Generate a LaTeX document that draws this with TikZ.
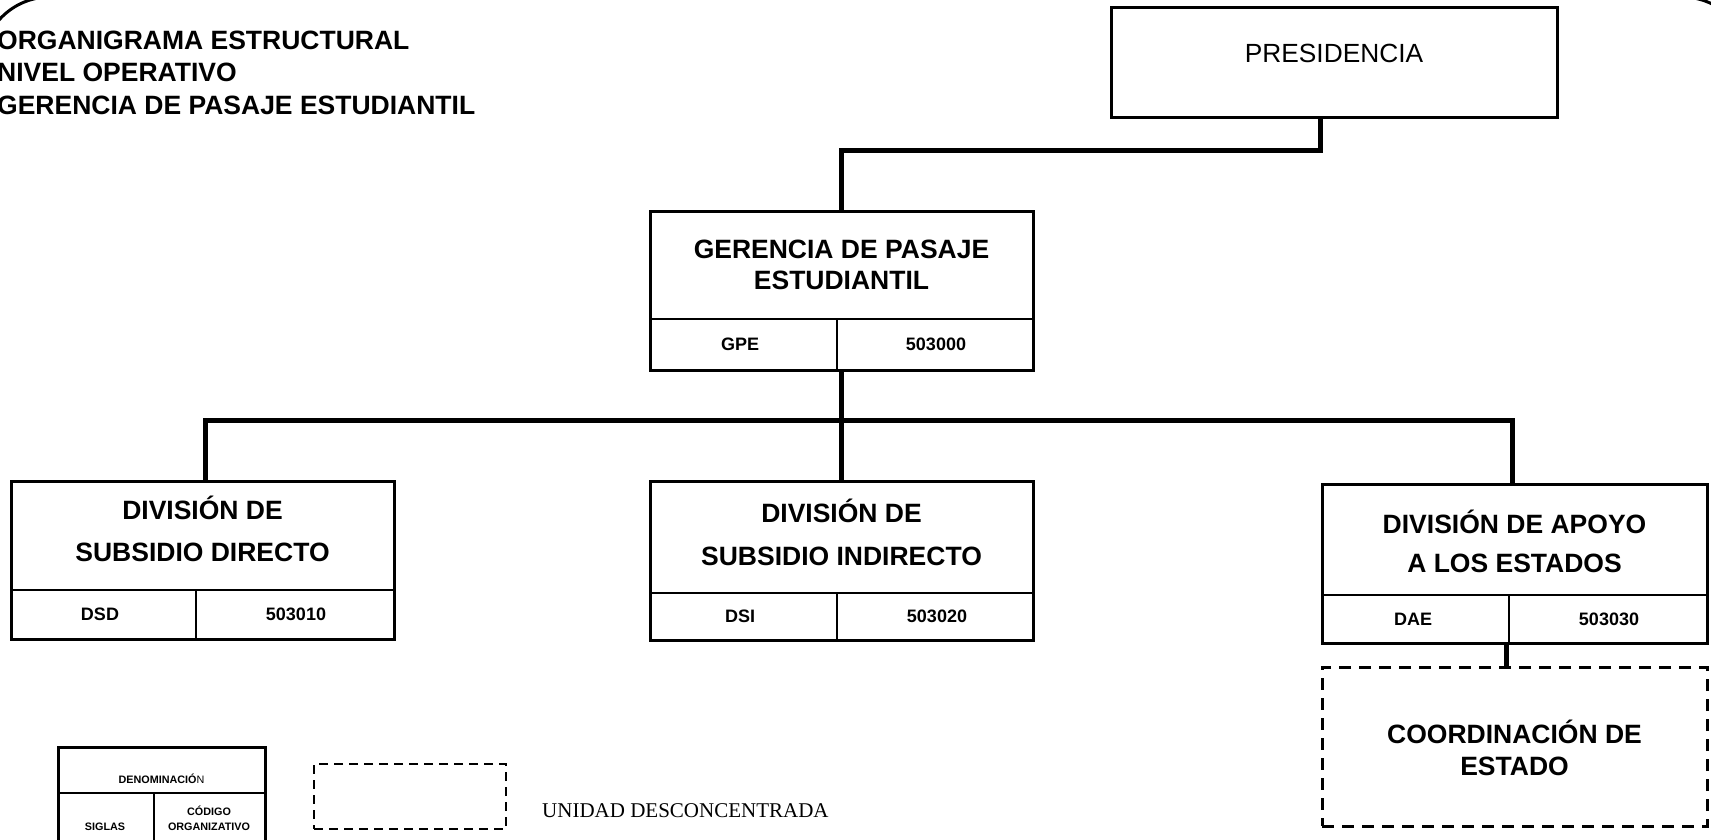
\documentclass[tikz,border=0pt]{standalone}
\usepackage{fontspec}
\setmainfont{Liberation Sans}
\newfontfamily\serifface{Liberation Serif}
\begin{document}
\begin{tikzpicture}[x=1pt,y=-1pt,
  unitbox/.style={draw, line width=3pt, inner sep=0pt},
  conn/.style={line width=5pt},
  divider/.style={line width=2pt},
  dbox/.style={draw, line width=3pt, dash pattern=on 12pt off 8pt, inner sep=0pt},
  bigtxt/.style={font=\fontsize{26.5}{30}\selectfont\bfseries, anchor=base, inner sep=0pt},
  regtxt/.style={font=\fontsize{26.3}{30}\selectfont, anchor=base, inner sep=0pt},
  codetxt/.style={font=\fontsize{18}{20}\selectfont\bfseries, anchor=base, inner sep=0pt},
  titletxt/.style={font=\fontsize{26.5}{30}\selectfont\bfseries, anchor=base west, inner sep=0pt},
  legtxt/.style={font=\fontsize{10.8}{12}\selectfont\bfseries, anchor=base, inner sep=0pt},
  legdash/.style={draw, line width=2.5pt, dash pattern=on 9pt off 6pt, inner sep=0pt}
]
\useasboundingbox (0,0) rectangle (1711,839);
\clip (0,0) rectangle (1711,839);
\fill[white] (0,0) rectangle (1711,839);

% outer frame (mostly outside)
\draw[line width=3pt, rounded corners=68pt] (-18,-3) rectangle (1750,930);

% title
\node[titletxt] (title1) at (-3,49.5) {ORGANIGRAMA ESTRUCTURAL};
\node[titletxt] (title2) at (-3,81.5) {NIVEL OPERATIVO};
\node[titletxt] (title3) at (-3,114.5) {GERENCIA DE PASAJE ESTUDIANTIL};

% boxes
\node[unitbox, minimum width=446pt, minimum height=110pt] (pres) at (1334,62) {};
\node[regtxt] (pres-t) at (1334,62.4) {PRESIDENCIA};

\node[unitbox, minimum width=383pt, minimum height=159pt] (gpe) at (841.5,290.5) {};
\draw[divider] (650,319) -- (1033,319);
\draw[line width=1.6pt] (837,319) -- (837,370);
\node[bigtxt] (gpe-t1) at (841.5,258.5) {GERENCIA DE PASAJE};
\node[bigtxt] (gpe-t2) at (841.5,289.5) {ESTUDIANTIL};
\node[codetxt] (gpe-s) at (740,350.4) {GPE};
\node[codetxt] (gpe-c) at (936,350.4) {503000};

\node[unitbox, minimum width=383pt, minimum height=158pt] (dsd) at (202.5,560) {};
\draw[divider] (11,590) -- (394,590);
\draw[line width=1.6pt] (196,590) -- (196,639);
\node[bigtxt] (dsd-t1) at (202.5,519.5) {DIVISIÓN DE};
\node[bigtxt] (dsd-t2) at (202.5,561.5) {SUBSIDIO DIRECTO};
\node[codetxt] (dsd-s) at (100,620.4) {DSD};
\node[codetxt] (dsd-c) at (296,620.4) {503010};

\node[unitbox, minimum width=383pt, minimum height=159pt] (dsi) at (841.5,560.5) {};
\draw[divider] (650,593) -- (1033,593);
\draw[line width=1.6pt] (837,593) -- (837,640);
\node[bigtxt] (dsi-t1) at (841.5,522.5) {DIVISIÓN DE};
\node[bigtxt] (dsi-t2) at (841.5,565.5) {SUBSIDIO INDIRECTO};
\node[codetxt] (dsi-s) at (740,622.4) {DSI};
\node[codetxt] (dsi-c) at (937,622.4) {503020};

\node[unitbox, minimum width=385pt, minimum height=159pt] (dae) at (1514.5,563.5) {};
\draw[divider] (1322,595) -- (1707,595);
\draw[line width=1.6pt] (1509,595) -- (1509,643);
\node[bigtxt] (dae-t1) at (1514.5,533.5) {DIVISIÓN DE APOYO};
\node[bigtxt] (dae-t2) at (1514.5,572.5) {A LOS ESTADOS};
\node[codetxt] (dae-s) at (1413,625.4) {DAE};
\node[codetxt] (dae-c) at (1609,625.4) {503030};

\node[dbox, minimum width=385pt, minimum height=159pt] (coord) at (1514.5,746.5) {};
\node[bigtxt] (coord-t1) at (1514.5,743.5) {COORDINACIÓN DE};
\node[bigtxt] (coord-t2) at (1514.5,775.5) {ESTADO};

% connectors
\coordinate (pbend) at (841.5,150);
\coordinate (bus) at (841.5,420);
\draw[conn] ([xshift=-14pt]pres.south) |- (pbend) -- (gpe.north);
\draw[conn] (gpe.south) -- (dsi.north);
\draw[conn] ([xshift=2.5pt]dsd.north) |- (bus) -| ([xshift=-2pt]dae.north);
\draw[conn] ([xshift=-8pt]dae.south) -- ([xshift=-8pt]coord.north);

% legend
\node[unitbox, minimum width=207pt, minimum height=103pt] (leg) at (161.5,798.5) {};
\draw[line width=2.4pt] (58,793) -- (265,793);
\draw[line width=1.6pt] (154,793) -- (154,850);
\node[legtxt] (leg-d) at (161.5,783) {DENOMINACIÓ{\mdseries N}};
\node[legtxt] (leg-s) at (105,830.5) {SIGLAS};
\node[legtxt] (leg-c1) at (209,815.5) {CÓDIGO};
\node[legtxt] (leg-c2) at (209,830) {ORGANIZATIVO};

\node[legdash, minimum width=192pt, minimum height=65pt] (legdesc) at (410,796.5) {};
\node[font=\serifface\fontsize{21}{24}\selectfont, anchor=base west, inner sep=0pt] (legdesc-t) at (542,817) {UNIDAD DESCONCENTRADA};
\end{tikzpicture}
\end{document}
